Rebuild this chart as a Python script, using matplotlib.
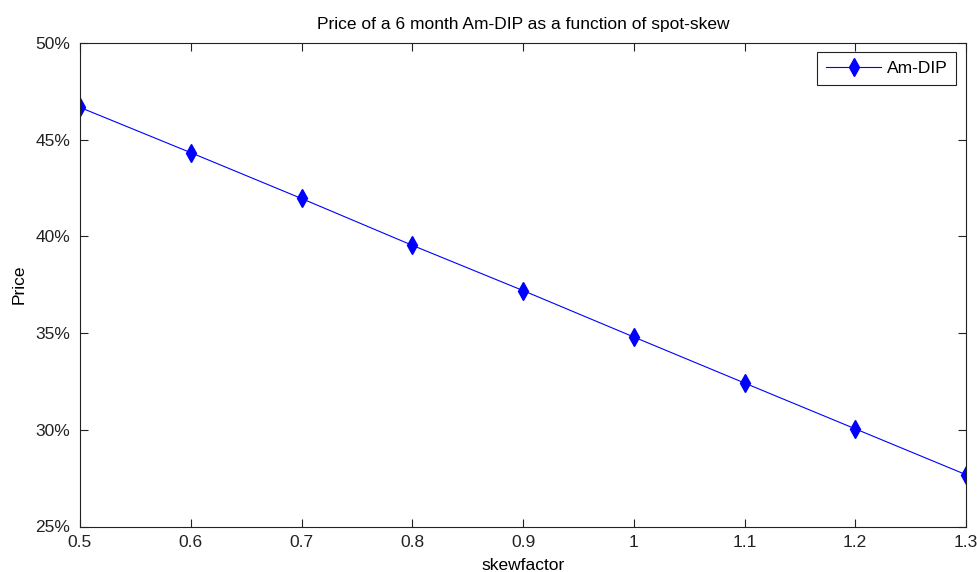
import matplotlib
matplotlib.use("Agg")
import matplotlib.pyplot as plt
from matplotlib.ticker import FuncFormatter

skewfactor = [0.5, 0.6, 0.7, 0.8, 0.9, 1.0, 1.1, 1.2, 1.3]
price = [46.67, 44.33, 41.96, 39.54, 37.20, 34.80, 32.42, 30.05, 27.68]
xticks = [0.5, 0.6, 0.7, 0.8, 0.9, 1.0, 1.1, 1.2, 1.3]
yticks = [25, 30, 35, 40, 45, 50]

plt.rcParams['font.family'] = ['Liberation Sans', 'DejaVu Sans']
fs = 12.5

fig = plt.figure(figsize=(9.77, 5.72), dpi=100)
ax = fig.add_axes([80/977, 1-526.5/572, (966-80)/977, (526.5-43)/572])
ax.plot(skewfactor, price, color='#0000FF', lw=0.8, marker='d',
        markersize=9, markerfacecolor='#0000FF', markeredgecolor='#0000FF',
        label='Am-DIP')
ax.set_xlim(0.5, 1.3)
ax.set_ylim(25, 50)
ax.set_xticks(xticks)
ax.set_yticks(yticks)
ax.xaxis.set_major_formatter(FuncFormatter(lambda v, p: f"{v:g}"))
ax.yaxis.set_major_formatter(FuncFormatter(lambda v, p: f"{v:.0f}%"))
ax.tick_params(direction='in', length=6, width=0.8, top=True, right=True,
               labelsize=fs, colors='#222222')
ax.tick_params(axis='y', pad=7)
ax.tick_params(axis='x', pad=6)
for s in ax.spines.values():
    s.set_linewidth(0.8)
    s.set_color('#222222')
ax.set_title('Price of a 6 month Am-DIP as a function of spot-skew', fontsize=fs, pad=10)
ax.set_xlabel('skewfactor', fontsize=fs, labelpad=6)
ax.set_ylabel('Price', fontsize=fs, labelpad=6)
leg = ax.legend(loc='upper right', fontsize=fs, fancybox=False, framealpha=1,
                edgecolor='#222222', borderpad=0.5, handlelength=3.2,
                handletextpad=0.3, borderaxespad=0,
                bbox_to_anchor=((956-80)/886, (526.5-52)/483.5))
leg.get_frame().set_linewidth(0.8)
fig.savefig('out.png', dpi=100)
